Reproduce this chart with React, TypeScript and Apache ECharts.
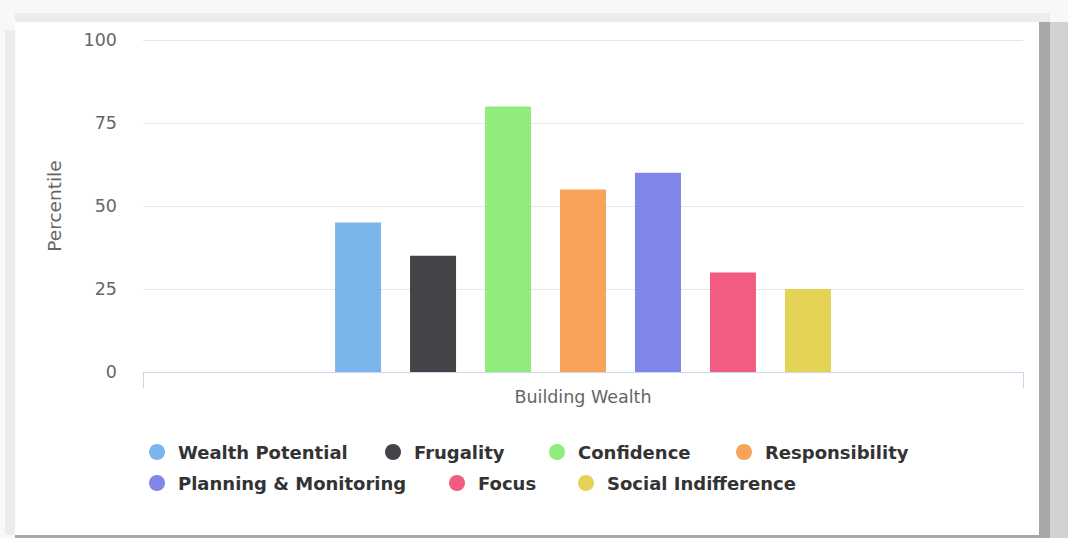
import React, { useEffect, useRef } from "react";
import * as echarts from "echarts";

const categories = ["Building Wealth"];
const seriesNames = [
  "Wealth Potential",
  "Frugality",
  "Confidence",
  "Responsibility",
  "Planning & Monitoring",
  "Focus",
  "Social Indifference",
];
const seriesValues = [45, 35, 80, 55, 60, 30, 25];
const seriesColors = ["#7cb5ec", "#434348", "#90ed7d", "#f7a35c", "#8085e9", "#f15c80", "#e4d354"];
const yTicks = [0, 25, 50, 75, 100];
const yTitle = "Percentile";

// legend entry anchors: [left edge of marker, top]
const legendSlots: [number, number][] = [
  [149, 443],
  [385, 443],
  [549, 443],
  [736, 443],
  [149, 474],
  [449, 474],
  [578, 474],
];

const W = 1068;
const H = 538;
const FONT = "'DejaVu Sans', Verdana, sans-serif";

export default function App() {
  const ref = useRef<HTMLDivElement>(null);

  useEffect(() => {
    if (!ref.current) return;
    const chart = echarts.init(ref.current, undefined, { renderer: "svg" });

    const legends = seriesNames.map((name, i) => ({
      orient: "horizontal" as const,
      icon: "circle",
      itemWidth: 16,
      itemHeight: 16,
      padding: 0,
      data: [name],
      left: legendSlots[i][0],
      top: legendSlots[i][1],
      textStyle: {
        fontFamily: FONT,
        fontSize: 18,
        fontWeight: "bold" as const,
        color: "#333333",
        padding: [0, 0, 0, 8],
      },
    }));

    chart.setOption({
      animation: false,
      backgroundColor: "#f8f8f8",
      graphic: [
        // page backdrop and card shadow
        { type: "rect", shape: { x: 15, y: 13, width: 1035, height: 9 }, style: { fill: "#ececec" }, z: -10 },
        { type: "rect", shape: { x: 5, y: 30, width: 10, height: 505 }, style: { fill: "#ececec" }, z: -10 },
        { type: "rect", shape: { x: 1039, y: 22, width: 11, height: 516 }, style: { fill: "#a8a8a8" }, z: -10 },
        { type: "rect", shape: { x: 1050, y: 22, width: 18, height: 516 }, style: { fill: "#d2d2d2" }, z: -10 },
        { type: "rect", shape: { x: 15, y: 535, width: 1035, height: 3 }, style: { fill: "#a8a8a8" }, z: -10 },
        { type: "rect", shape: { x: 15, y: 22, width: 1024, height: 513 }, style: { fill: "#ffffff" }, z: -9 },
      ],
      grid: { left: 143, right: W - 1023, top: 40, bottom: H - 372 },
      legend: legends,
      xAxis: {
        type: "category",
        data: categories,
        axisLine: { lineStyle: { color: "#ccd6eb", width: 1 } },
        axisTick: { show: true, length: 16, lineStyle: { color: "#ccd6eb" } },
        axisLabel: { fontFamily: FONT, fontSize: 17.5, color: "#666666", margin: 16 },
      },
      yAxis: {
        type: "value",
        min: yTicks[0],
        max: yTicks[yTicks.length - 1],
        interval: 25,
        name: yTitle,
        nameLocation: "middle",
        nameGap: 79,
        nameRotate: 90,
        nameTextStyle: { fontFamily: FONT, fontSize: 18.5, color: "#666666" },
        axisLine: { show: false },
        axisTick: { show: false },
        axisLabel: { fontFamily: FONT, fontSize: 17.5, color: "#666666", margin: 26 },
        splitLine: { lineStyle: { color: "#e6e6e6", width: 1 } },
      },
      series: seriesNames.map((name, i) => ({
        name,
        type: "bar",
        data: [seriesValues[i]],
        barWidth: 46,
        barGap: "63%",
        itemStyle: { color: seriesColors[i] },
      })),
    });

    return () => chart.dispose();
  }, []);

  return (
    <div
      ref={ref}
      style={{ position: "fixed", left: 0, top: 0, width: W, height: H }}
    />
  );
}
